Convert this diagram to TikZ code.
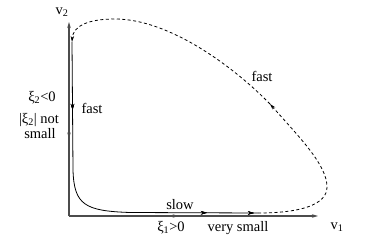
\documentclass[tikz,border=0pt]{standalone}
\usepackage{fontspec}
\setmainfont{Liberation Serif}
\usetikzlibrary{arrows.meta,decorations.markings}
\begin{document}
\begin{tikzpicture}[x=1pt,y=-1pt,
  lbl/.style={inner sep=0pt, font=\fontsize{14.5}{15}\selectfont},
  axis/.style={line width=1.1pt, draw=black!70},
  trj/.style={line width=0.8pt},
  tip/.style={-{Stealth[length=6pt,width=3.5pt]}},
  fwdmark/.style={postaction={decorate},decoration={markings,mark=at position #1 with {\arrow{Stealth[length=6pt,width=3.5pt]}}}},
  revmark/.style={postaction={decorate},decoration={markings,mark=at position #1 with {\arrowreversed{Stealth[length=6pt,width=3.5pt]}}}},
  dsh/.style={line width=0.8pt, dash pattern=on 3pt off 2.5pt}]
\useasboundingbox (0,0) rectangle (371,248);
% axes
\coordinate (O) at (69,216);
\coordinate (Y) at (69,22);
\coordinate (X) at (318,216);
\draw[axis, tip, revmark=0.40] (O) -- (Y);
\draw[axis, tip, fwdmark=0.44] (O) -- (X);
% trajectory (solid)
\coordinate (S) at (72,42);
\coordinate (K) at (73,170);
\coordinate (H) at (130,212.5);
\coordinate (A) at (258,213);
\draw[trj, fwdmark=68pt, fwdmark=-51pt, fwdmark=-4pt] (S) -- (K) .. controls (74,205) and (85,211) .. (H) -- (A);
% trajectory (dashed)
\coordinate (R) at (327,187);
\coordinate (M) at (270,104);
\coordinate (T) at (115,19);
\draw[dsh, tip] (A) .. controls (300,213) and (327,205) .. (R) .. controls (327,165) and (300,138) .. (M);
\draw[dsh, tip] (M) .. controls (235,68) and (170,19) .. (T) .. controls (88,19) and (73,26) .. (S);
% labels
\node[lbl] (lv2) at (62,12) {v\textsubscript{2}};
\node[lbl] (lv1) at (337,227) {v\textsubscript{1}};
\node[lbl] (lxi2) at (42,98) {ξ\textsubscript{2}<0};
\node[lbl] (lnot) at (39,119.5) {|ξ\textsubscript{2}| not};
\node[lbl] (lsmall) at (40,134) {small};
\node[lbl] (lfast1) at (92,108) {fast};
\node[lbl] (lfast2) at (262,76) {fast};
\node[lbl] (lslow) at (180,205) {slow};
\node[lbl] (lxi1) at (171,228) {ξ\textsubscript{1}>0};
\node[lbl] (lvs) at (238,228) {very small};
\end{tikzpicture}
\end{document}
